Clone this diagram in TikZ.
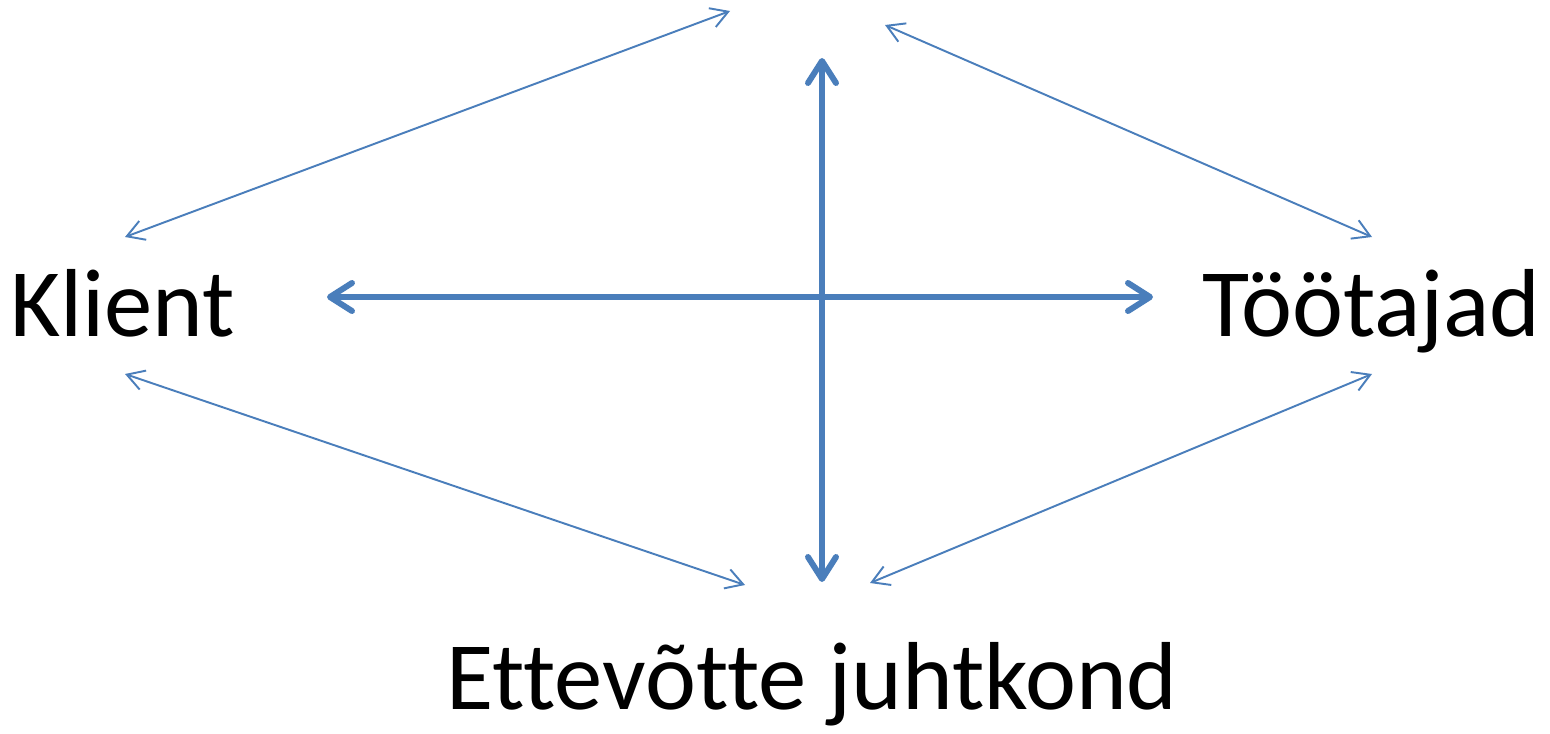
\documentclass[tikz,border=0pt]{standalone}
\usepackage{fontspec}
\setmainfont{Carlito}[Ligatures=NoCommon,RawFeature={-liga;-calt}]
\usetikzlibrary{arrows.meta}
\definecolor{linkblue}{RGB}{74,126,187}
\begin{document}
\begin{tikzpicture}[x=0.02cm,y=-0.02cm,
  pair/.style={linkblue,line width=1.1pt,
    {Straight Barb[length=0.34cm,width=0.4cm]}-{Straight Barb[length=0.34cm,width=0.4cm]}},
  cross/.style={linkblue,line width=3.4pt,line cap=round,
    {Straight Barb[length=0.44cm,width=0.56cm,round]}-{Straight Barb[length=0.44cm,width=0.56cm,round]}},
  word/.style={inner sep=0pt,font=\fontsize{55}{62}\selectfont}]
\useasboundingbox (0,0) rectangle (1550,733);
\node[word,anchor=base west] (klient) at (10,336) {Klient};
\node[word,anchor=base east] (tootajad) at (1541,336) {Töötajad};
\node[word,anchor=base] (juhtkond) at (812,709) {Ettevõtte juhtkond};
\coordinate (KU) at (125,237);
\coordinate (KD) at (125,374);
\coordinate (TU) at (1372,237);
\coordinate (TD) at (1372,374);
\coordinate (AL) at (730,11);
\coordinate (AR) at (885,25);
\coordinate (BL) at (745,585);
\coordinate (BR) at (870,583);
\coordinate (N) at (822,58);
\coordinate (S) at (822,582);
\coordinate (W) at (327,297);
\coordinate (E) at (1153,297);
\draw[pair] (KU)--(AL);
\draw[pair] (AR)--(TU);
\draw[pair] (KD)--(BL);
\draw[pair] (BR)--(TD);
\draw[cross] (N)--(S);
\draw[cross] (W)--(E);
\end{tikzpicture}
\end{document}
